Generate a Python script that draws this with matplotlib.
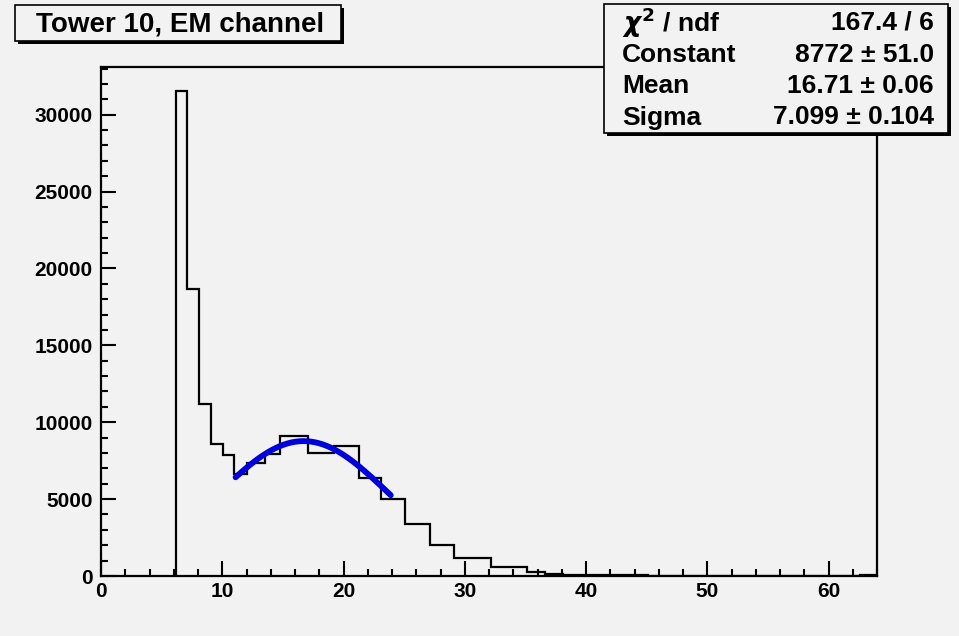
import numpy as np
import matplotlib.pyplot as plt
from matplotlib.patches import Rectangle
from matplotlib.ticker import MultipleLocator

plt.rcParams['font.family'] = ['Liberation Sans', 'DejaVu Sans']
plt.rcParams['font.weight'] = 'bold'

# histogram bin edges and contents
bin_edges = [6.2, 7.1, 8.1, 9.1, 10.1, 11.0, 12.0, 13.5, 14.8, 17.1, 19.2,
             21.3, 23.1, 25.1, 27.1, 29.1, 32.2, 35.1, 36.6, 38.1, 45.1, 62.6, 64.0]
bin_counts = [31550, 18670, 11190, 8610, 7850, 6650, 7350, 7950, 9110, 8020,
              8460, 6400, 5030, 3360, 2000, 1150, 610, 260, 160, 60, 0, 40]

# gaussian fit parameters
fit_const = 8772
fit_mean = 16.71
fit_sigma = 7.099
fit_range = (11.1, 23.9)

stat_names = [r'$\chi^{2}$ / ndf', 'Constant', 'Mean', 'Sigma']
stat_values = ['167.4 / 6', '8772 ± 51.0', '16.71 ± 0.06', '7.099 ± 0.104']

bg = '#f2f2f2'
W, H = 959, 636
fig = plt.figure(figsize=(W / 100, H / 100), dpi=100, facecolor=bg)


def fx(px):
    return px / W


def fy(py):
    return 1 - py / H


ax = fig.add_axes([fx(101), fy(576), fx(877) - fx(101), fy(67) - fy(576)])
ax.set_facecolor(bg)

ax.stairs(bin_counts, bin_edges, color='black', lw=1.6)

xf = np.linspace(fit_range[0], fit_range[1], 200)
yf = fit_const * np.exp(-0.5 * ((xf - fit_mean) / fit_sigma) ** 2)
ax.plot(xf, yf, color='#0000dd', lw=4.2, solid_capstyle='round')

ax.set_xlim(0, 64)
ax.set_ylim(0, 33100)
ax.xaxis.set_major_locator(MultipleLocator(10))
ax.xaxis.set_minor_locator(MultipleLocator(2))
ax.yaxis.set_major_locator(MultipleLocator(5000))
ax.yaxis.set_minor_locator(MultipleLocator(1000))
ax.tick_params(which='both', direction='in', top=False, right=False,
               width=1.5, labelsize=15)
ax.tick_params(which='major', length=11, pad=6)
ax.tick_params(axis='x', which='major', pad=4)
ax.tick_params(which='minor', length=5)
for lab in ax.get_xticklabels() + ax.get_yticklabels():
    lab.set_fontweight('bold')
for s in ax.spines.values():
    s.set_linewidth(1.6)


# boxes with a drop shadow, in pixel coordinates
def shadow_box(x0, y0, x1, y1):
    fig.patches.append(Rectangle((fx(x0 + 3), fy(y1 + 3)), fx(x1 - x0), fy(y0) - fy(y1),
                                 transform=fig.transFigure, facecolor='black',
                                 edgecolor='none', zorder=5))
    fig.patches.append(Rectangle((fx(x0), fy(y1)), fx(x1 - x0), fy(y0) - fy(y1),
                                 transform=fig.transFigure, facecolor=bg,
                                 edgecolor='black', lw=1.2, zorder=6))


shadow_box(15, 5, 341, 41)
fig.text(fx(180), fy(24), 'Tower 10, EM channel', ha='center', va='center',
         fontsize=20, fontweight='bold', zorder=7)

shadow_box(604, 4, 948, 133)
for i, (n, v) in enumerate(zip(stat_names, stat_values)):
    yy = fy(23 + i * 31.5)
    fig.text(fx(622), yy, n, ha='left', va='center', fontsize=19,
             fontweight='bold', zorder=7)
    fig.text(fx(934), yy, v, ha='right', va='center', fontsize=19,
             fontweight='bold', zorder=7)

fig.savefig('out.png', dpi=100, facecolor=bg)
